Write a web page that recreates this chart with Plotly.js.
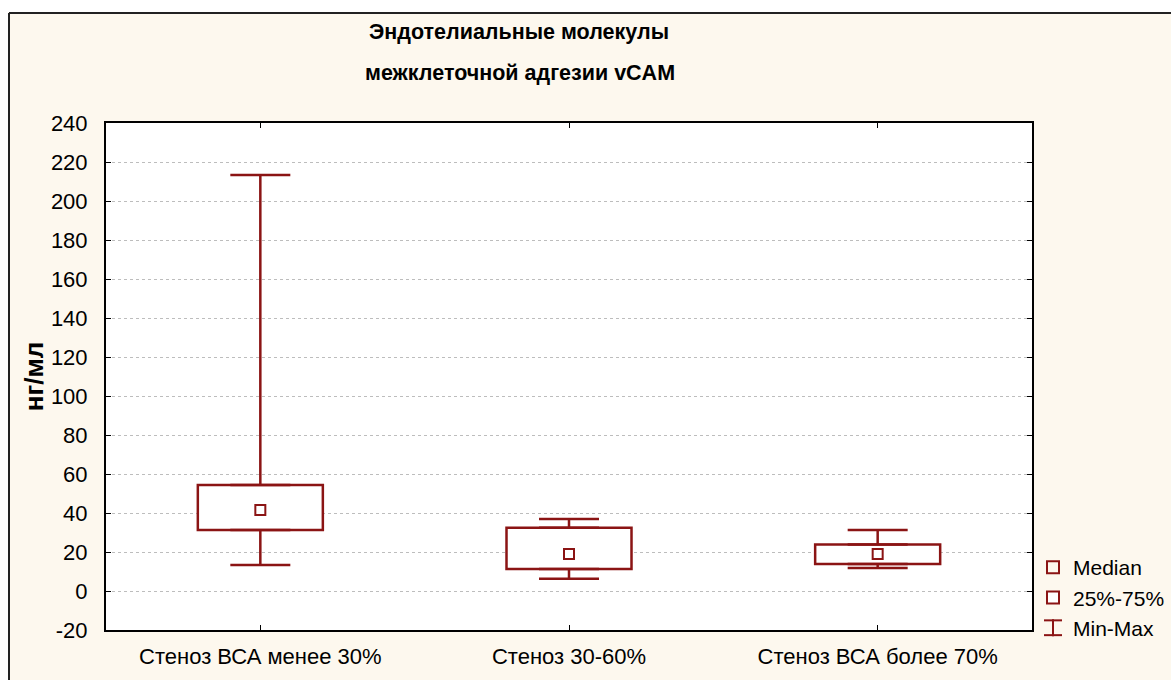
<!DOCTYPE html>
<html>
<head>
<meta charset="utf-8">
<script src="https://cdn.plot.ly/plotly-3.0.1.min.js"></script>
<style>html,body{margin:0;padding:0;background:#fff;}#chart{width:1171px;height:680px;}</style>
</head>
<body>
<div id="chart"></div>
<script>
// ---- data ----
var categories = ["Стеноз ВСА менее 30%", "Стеноз 30-60%", "Стеноз ВСА более 70%"];
var minVals    = [13.3, 6.3, 11.8];
var q1Vals     = [31.3, 11.3, 13.8];
var medianVals = [41.5, 19.0, 19.0];
var q3Vals     = [54.4, 32.5, 23.8];
var maxVals    = [213.3, 36.9, 31.3];
var yTickVals  = [-20, 0, 20, 40, 60, 80, 100, 120, 140, 160, 180, 200, 220, 240];
var titleLines = ["Эндотелиальные молекулы", "межклеточной адгезии vCAM"];
var yTitle = "нг/мл";
var legendNames = ["Median", "25%-75%", "Min-Max"];

var RED = "#8b1414";
var FONT = "Liberation Sans, Arial, sans-serif";
var CREAM = "#fdf8ee";

var boxHeights = q3Vals.map(function (v, i) { return v - q1Vals[i]; });
var upper = maxVals.map(function (v, i) { return v - q3Vals[i]; });
var lower = q1Vals.map(function (v, i) { return v - minVals[i]; });
var zeros = categories.map(function () { return 0; });

var traces = [
  { // 25%-75% box
    type: "bar", x: categories, y: boxHeights, base: q1Vals, width: 0.405,
    name: legendNames[1], showlegend: true, legendrank: 2,
    marker: { color: "#ffffff", line: { color: RED, width: 2.5 } },
    hoverinfo: "skip"
  },
  { // upper whisker
    type: "scatter", mode: "markers", x: categories, y: q3Vals, showlegend: false,
    marker: { size: 1, opacity: 0 },
    error_y: { type: "data", symmetric: false, array: upper, arrayminus: zeros,
               color: RED, thickness: 2.5, width: 30 },
    hoverinfo: "skip"
  },
  { // lower whisker
    type: "scatter", mode: "markers", x: categories, y: q1Vals, showlegend: false,
    marker: { size: 1, opacity: 0 },
    error_y: { type: "data", symmetric: false, array: zeros, arrayminus: lower,
               color: RED, thickness: 2.5, width: 30 },
    hoverinfo: "skip"
  },
  { // median
    type: "scatter", mode: "markers", x: categories, y: medianVals,
    name: legendNames[0], legendrank: 1,
    marker: { symbol: "square-open", size: 10, color: RED, line: { width: 2, color: RED } }
  },
  { // legend entry Min-Max
    type: "scatter", mode: "markers", x: [null], y: [null],
    name: legendNames[2], legendrank: 3,
    marker: { symbol: "line-ns-open", size: 24, color: RED, line: { width: 2, color: RED } }
  }
];

function px2x(p) { return (p - 106) / 926; }
function px2y(p) { return (630 - p) / 507; }

var TITLE_FONT = { family: FONT, size: 21.5, color: "#000" };

var layout = {
  width: 1171, height: 680,
  margin: { l: 106, r: 139, t: 123, b: 50, autoexpand: false },
  paper_bgcolor: CREAM,
  plot_bgcolor: "#ffffff",
  font: { family: FONT, size: 22, color: "#000" },
  showlegend: true,
  legend: {
    xref: "container", yref: "container",
    x: 1033 / 1171, y: 1 - 547 / 680, xanchor: "left", yanchor: "top",
    bgcolor: "rgba(0,0,0,0)", borderwidth: 0,
    font: { family: FONT, size: 21, color: "#000" },
    traceorder: "normal", itemsizing: "constant",
    tracegroupgap: 0
  },
  bargap: 0,
  xaxis: {
    type: "category", range: [-0.5, 2.5],
    showgrid: false, zeroline: false,
    showline: true, linecolor: "#000", linewidth: 2, mirror: "ticks",
    ticks: "inside", ticklen: 5, tickcolor: "#000", tickwidth: 1,
    tickfont: { family: FONT, size: 22, color: "#000" },
    ticklabelstandoff: 6, fixedrange: true
  },
  yaxis: {
    range: [-20, 240], tickvals: yTickVals,
    ticktext: yTickVals.map(String),
    showgrid: true, gridcolor: "#bdbdbd", gridwidth: 1, griddash: "dot",
    zeroline: false,
    showline: true, linecolor: "#000", linewidth: 2, mirror: "ticks",
    ticks: "inside", ticklen: 5, tickcolor: "#000", tickwidth: 1,
    tickfont: { family: FONT, size: 22, color: "#000" },
    ticklabelstandoff: 12,
    title: { text: "<b>" + yTitle + "</b>", font: { family: FONT, size: 26, color: "#000" }, standoff: 0 },
    fixedrange: true
  },
  annotations: [
    { xref: "paper", yref: "paper", x: px2x(519), y: px2y(32), xanchor: "center", yanchor: "middle",
      text: "<b>" + titleLines[0] + "</b>", showarrow: false, font: TITLE_FONT },
    { xref: "paper", yref: "paper", x: px2x(520), y: px2y(73), xanchor: "center", yanchor: "middle",
      text: "<b>" + titleLines[1] + "</b>", showarrow: false, font: TITLE_FONT }
  ],
  shapes: [
    // white strips outside the outer frame
    { type: "rect", xref: "paper", yref: "paper", x0: px2x(0), x1: px2x(1171), y0: px2y(0), y1: px2y(12),
      fillcolor: "#ffffff", line: { width: 0 }, layer: "below" },
    { type: "rect", xref: "paper", yref: "paper", x0: px2x(0), x1: px2x(8), y0: px2y(0), y1: px2y(680),
      fillcolor: "#ffffff", line: { width: 0 }, layer: "below" },
    // outer frame lines
    { type: "line", xref: "paper", yref: "paper", x0: px2x(9), x1: px2x(1171), y0: px2y(13), y1: px2y(13),
      line: { color: "#222", width: 2 } },
    { type: "line", xref: "paper", yref: "paper", x0: px2x(9), x1: px2x(9), y0: px2y(13), y1: px2y(680),
      line: { color: "#222", width: 2 } }
  ]
};

Plotly.newPlot("chart", traces, layout, { displayModeBar: false, staticPlot: true }).then(function (gd) {
  // add the cross-bars of the Min-Max legend symbol (I-beam), positioned on the rendered legend item
  var items = gd.querySelectorAll(".legend .traces");
  var chartBox = gd.getBoundingClientRect();
  items.forEach(function (it) {
    var txt = it.querySelector(".legendtext");
    if (txt && txt.textContent === legendNames[2]) {
      var pt = it.querySelector(".legendpoints path");
      if (!pt) return;
      var b = pt.getBoundingClientRect();
      var cx = b.left + b.width / 2 - chartBox.left;
      var top = b.top - chartBox.top + 1, bot = b.bottom - chartBox.top - 1;
      var newShapes = gd.layout.shapes.slice();
      [top, bot].forEach(function (yy) {
        newShapes.push({ type: "line", xref: "paper", yref: "paper",
          x0: px2x(cx - 9), x1: px2x(cx + 9), y0: px2y(yy), y1: px2y(yy),
          line: { color: RED, width: 2 } });
      });
      Plotly.relayout(gd, { shapes: newShapes });
    }
  });
});
</script>
</body>
</html>
